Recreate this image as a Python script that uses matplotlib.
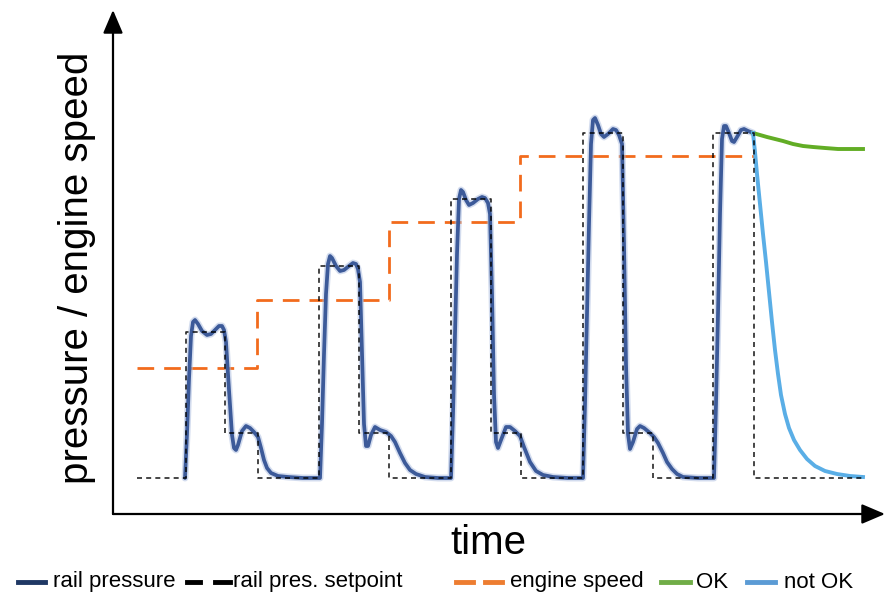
import matplotlib.pyplot as plt
from matplotlib.lines import Line2D

plt.rcParams['font.family'] = ['Liberation Sans', 'DejaVu Sans']

# rail pressure setpoint (steps)
setpoint_t = [24, 73, 112, 145, 206, 246, 276, 338, 378, 408, 470, 510, 540, 600, 641, 750]
setpoint_v = [36, 182, 81, 36, 248, 81, 36, 315, 81, 36, 381, 81, 36, 381, 36, 36]

# engine speed (steps)
speed_t = [24, 144, 276, 407, 641]
speed_v = [146, 214, 292, 358, 358]

rail_t = [72, 74, 76, 78, 80, 82, 85, 89, 94, 98, 102, 106, 109, 111, 113, 116, 119, 121, 123,
          125, 129, 133, 137, 141, 145, 148, 151, 154, 158, 165, 175, 190,
          207, 209, 211, 213, 215, 217, 219, 223, 227, 231, 236, 240, 243, 245, 247, 249, 251,
          253, 255, 258, 262, 267, 273, 278, 282, 287, 292, 297, 303, 312, 325,
          338, 340, 342, 344, 346, 348, 350, 353, 356, 360, 365, 369, 372, 375, 377, 379, 381,
          383, 385, 388, 393, 397, 402, 407, 411, 417, 423, 430, 440, 455,
          470, 472, 474, 476, 478, 480, 482, 485, 488, 491, 495, 500, 503, 506, 509, 511, 513,
          515, 517, 520, 524, 527, 531, 537, 541, 545, 550, 554, 559, 564, 570, 585,
          601, 603, 605, 607, 609, 611, 613, 616, 619, 621, 624, 628, 631, 635, 640]
rail_v = [36, 80, 135, 178, 192, 194, 190, 183, 179, 180, 184, 188, 188, 184, 172, 124, 79, 66, 64,
          69, 83, 88, 86, 82, 77, 66, 54, 46, 41, 38, 37, 36,
          36, 90, 160, 220, 250, 258, 256, 248, 243, 244, 248, 251, 250, 245, 232, 160, 90,
          68, 68, 79, 87, 84, 82, 78, 72, 61, 51, 44, 40, 37, 36,
          36, 100, 180, 260, 315, 324, 322, 314, 309, 311, 315, 317, 316, 311, 300, 220, 120,
          72, 66, 74, 87, 87, 83, 78, 67, 52, 43, 39, 37, 36,
          36, 110, 200, 290, 370, 394, 396, 389, 380, 377, 380, 385, 384, 379, 370, 270, 150,
          80, 65, 72, 85, 88, 86, 81, 77, 71, 61, 52, 45, 40, 37, 36,
          36, 110, 200, 300, 375, 388, 388, 381, 373, 372, 377, 384, 385, 383, 381]

# after the last step: OK / not OK
ok_t = [640, 647, 654, 662, 670, 680, 690, 700, 712, 725, 737, 750]
ok_v = [381, 379, 377, 375, 373, 370, 368, 367, 366, 365, 365, 365]
nok_t = [640, 642, 644, 647, 650, 653, 656, 659, 662, 665, 668, 672, 676, 681, 687, 694, 702,
         712, 724, 737, 750]
nok_v = [381, 362, 340, 310, 280, 252, 222, 192, 164, 140, 119, 100, 86, 74, 64, 55, 48,
         43, 40, 38, 37]

navy = '#3c5a99'
orange = '#f26b1d'
green = '#62ad25'
lightblue = '#5aaee6'

fig = plt.figure(figsize=(8.87, 5.98), dpi=100)
ax = fig.add_axes([113 / 887, 84 / 598, 772 / 887, 504 / 598])
ax.set_xlim(0, 772)
ax.set_ylim(0, 504)
for s in ax.spines.values():
    s.set_visible(False)
ax.set_xticks([])
ax.set_yticks([])

ax.plot(speed_t, speed_v, drawstyle='steps-post', color=orange, lw=2.0,
        dashes=(6, 3.6), zorder=2)
ax.plot(rail_t, rail_v, color='#a9bbdf', lw=5.0, alpha=0.5, zorder=3,
        solid_joinstyle='round', solid_capstyle='round')
ax.plot(rail_t, rail_v, color=navy, lw=2.7, zorder=3,
        solid_joinstyle='round', solid_capstyle='round')
ax.plot(ok_t, ok_v, color=green, lw=2.8, zorder=3, solid_joinstyle='round')
ax.plot(nok_t, nok_v, color=lightblue, lw=2.8, zorder=3, solid_joinstyle='round')
ax.plot(setpoint_t, setpoint_v, drawstyle='steps-post', color='black', lw=1.2,
        dashes=(3, 2.5), alpha=0.85, zorder=4)

# axes with arrows
arrow = dict(arrowstyle='-|>,head_length=0.75,head_width=0.32', color='black',
             lw=1.6, shrinkA=0, shrinkB=0, mutation_scale=19)
ax.annotate('', xy=(1, 0), xytext=(0, 0), xycoords='axes fraction', arrowprops=arrow)
ax.annotate('', xy=(0, 1), xytext=(0, 0), xycoords='axes fraction', arrowprops=arrow)

fig.text(488 / 887, 1 - 543 / 598, 'time', fontsize=29, ha='center', va='center')
fig.text(77 / 887, 1 - 268 / 598, 'pressure / engine speed', fontsize=29,
         rotation=90, ha='center', va='center')

# legend
ly = 1 - 582 / 598
def leg_line(x0, x1, color, lw=3.5):
    fig.add_artist(Line2D([x0 / 887, x1 / 887], [ly, ly], color=color, lw=lw,
                          transform=fig.transFigure))

leg_line(18, 45, '#1f3864')
fig.text(53 / 887, ly, 'rail pressure', fontsize=16, va='center')
leg_line(187, 200, 'black')
leg_line(215, 230, 'black')
fig.text(233 / 887, ly, 'rail pres. setpoint', fontsize=16, va='center')
leg_line(456, 473, '#ed7d31')
leg_line(485, 502, '#ed7d31')
fig.text(510 / 887, ly, 'engine speed', fontsize=16, va='center')
leg_line(661, 690, '#70ad47')
fig.text(696 / 887, ly, 'OK', fontsize=16, va='center')
leg_line(747, 775, '#5b9bd5')
fig.text(784 / 887, ly, 'not OK', fontsize=16, va='center')

fig.savefig('out.png', dpi=100)
